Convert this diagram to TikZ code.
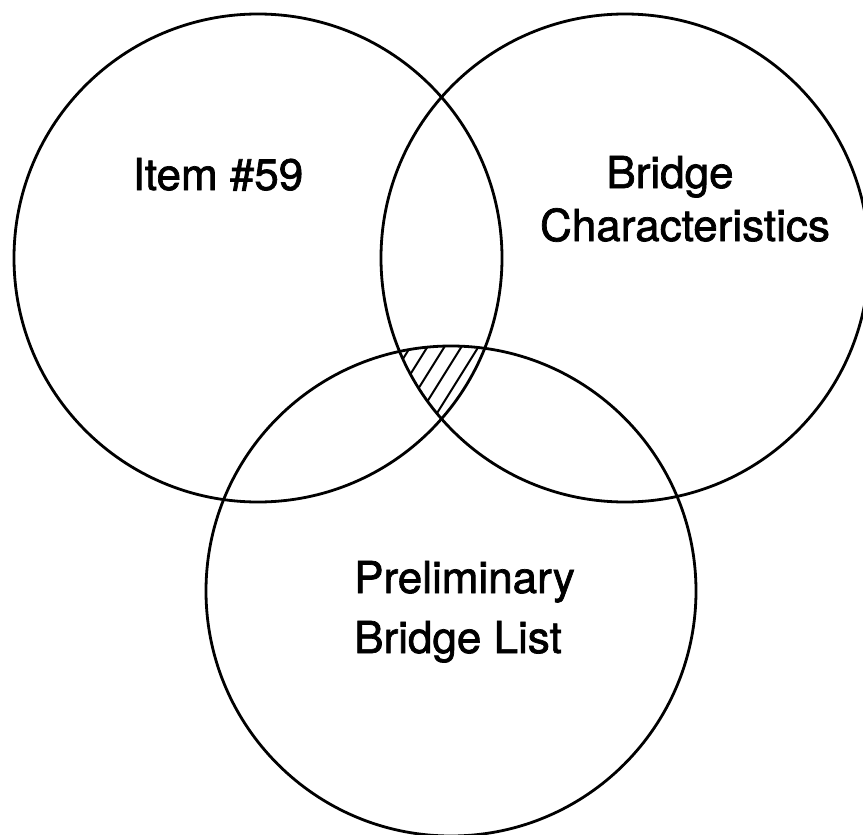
\documentclass[tikz,border=0pt]{standalone}
\usepackage{fontspec}
\setmainfont{TeX Gyre Heros}[FakeBold=1.6]

\begin{document}
\begin{tikzpicture}[x=1pt, y=-1pt,
    set/.style={circle, draw, line width=2.8pt, minimum size=488pt, inner sep=0pt},
    setname/.style={inner sep=0pt, font=\fontsize{44}{50}\selectfont},
    hatch/.style={line width=2pt}
]
    \useasboundingbox (0,0) rectangle (863,835);

    \node[set] (item) at (258, 258) {};
    \node[set] (bridge) at (625, 258) {};
    \node[set, minimum size=490pt] (prelim) at (451, 591) {};

    % hatched area common to all three sets
    \begin{scope}
        \clip (item.center) circle[radius=244pt];
        \clip (bridge.center) circle[radius=244pt];
        \clip (prelim.center) circle[radius=245pt];
        \foreach \k in {0,...,12}
            \draw[hatch] ({312+17*\k}, 450) -- ++(-58:160);
    \end{scope}

    \node[setname, anchor=base] (T1) at (218, 190) {Item \#59};
    \node[setname, anchor=base] (T2) at (670, 188) {Bridge};
    \node[setname, anchor=base] (T3) at (685, 241) {Characteristics};
    \node[setname, anchor=base west] (T4) at (354, 593) {Preliminary};
    \node[setname, anchor=base west] (T5) at (354, 653) {Bridge List};
\end{tikzpicture}
\end{document}
